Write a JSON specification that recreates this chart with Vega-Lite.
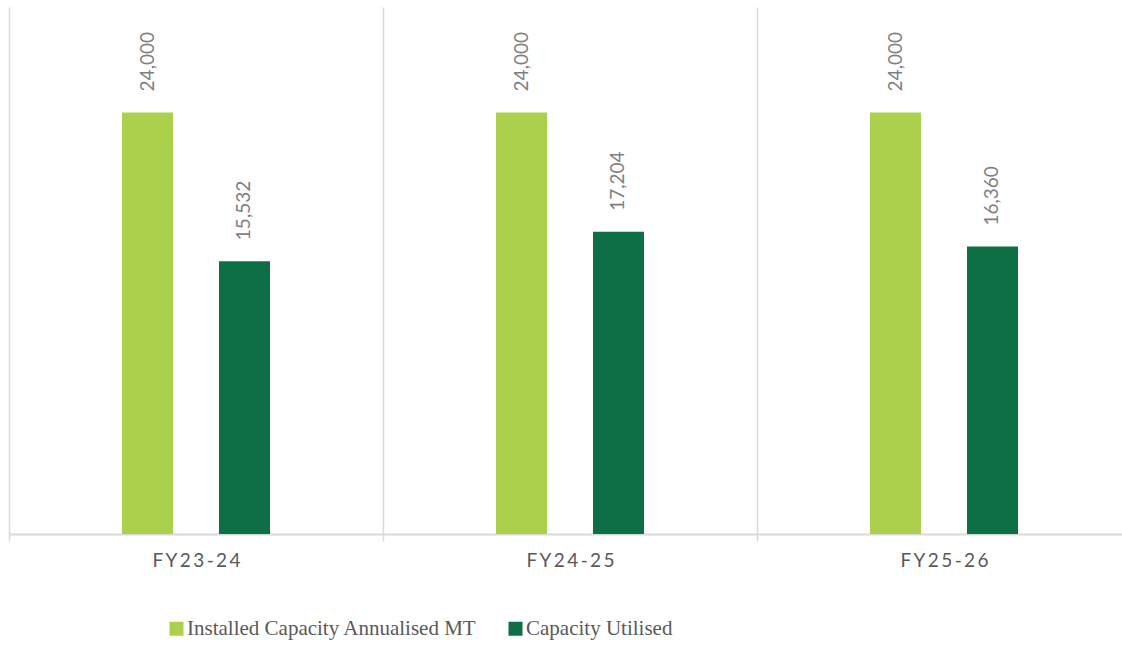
{
  "$schema": "https://vega.github.io/schema/vega-lite/v6.json",
  "autosize": "none",
  "padding": {"left": 9, "top": 7, "right": 0, "bottom": 114},
  "width": 1122,
  "height": 527,
  "background": "white",
  "data": {
    "values": [
      {"year": "FY23-24", "series": "Installed Capacity Annualised MT", "value": 24000},
      {"year": "FY23-24", "series": "Capacity Utilised", "value": 15532},
      {"year": "FY24-25", "series": "Installed Capacity Annualised MT", "value": 24000},
      {"year": "FY24-25", "series": "Capacity Utilised", "value": 17204},
      {"year": "FY25-26", "series": "Installed Capacity Annualised MT", "value": 24000},
      {"year": "FY25-26", "series": "Capacity Utilised", "value": 16360}
    ]
  },
  "config": {
    "view": {"stroke": null}
  },
  "encoding": {
    "x": {
      "field": "year",
      "type": "nominal",
      "sort": ["FY23-24", "FY24-25", "FY25-26"],
      "scale": {"paddingInner": 0, "paddingOuter": 0},
      "axis": {
        "title": null,
        "labelAngle": 0,
        "tickBand": "extent",
        "grid": true,
        "gridColor": "#d9d9d9",
        "gridWidth": 1.5,
        "ticks": true,
        "tickColor": "#d9d9d9",
        "tickWidth": 1.5,
        "tickSize": 7,
        "domainColor": "#d9d9d9",
        "domainWidth": 2,
        "labelFont": "Lato",
        "labelFontSize": 19,
        "labelColor": "#595959",
        "labelPadding": 10,
        "labelExpr": "join(split(datum.label, ''), '\u2009')"
      }
    },
    "xOffset": {
      "field": "series",
      "type": "nominal",
      "sort": ["Installed Capacity Annualised MT", "Capacity Utilised"],
      "scale": {"paddingInner": 0.144, "paddingOuter": 1}
    },
    "y": {
      "field": "value",
      "type": "quantitative",
      "scale": {"domain": [0, 30000], "nice": false, "zero": true},
      "axis": null
    }
  },
  "layer": [
    {
      "mark": {"type": "bar", "width": 51},
      "encoding": {
        "color": {
          "field": "series",
          "type": "nominal",
          "scale": {
            "domain": ["Installed Capacity Annualised MT", "Capacity Utilised"],
            "range": ["#abd04b", "#0e6f47"]
          },
          "legend": {
            "title": null,
            "orient": "none",
            "direction": "horizontal",
            "legendX": 157,
            "legendY": 611,
            "padding": 0,
            "symbolType": "square",
            "symbolSize": 196,
            "symbolStrokeWidth": 0,
            "labelFont": "Liberation Serif",
            "labelFontSize": 21,
            "labelColor": "#595959",
            "labelOffset": 0,
            "columnPadding": 28,
            "labelLimit": 500
          }
        }
      }
    },
    {
      "mark": {
        "type": "text",
        "angle": 270,
        "align": "left",
        "baseline": "middle",
        "dx": 21,
        "font": "Lato",
        "fontSize": 19,
        "color": "#7f7f7f"
      },
      "encoding": {
        "text": {"field": "value", "type": "quantitative", "format": ",.0f"}
      }
    }
  ]
}
